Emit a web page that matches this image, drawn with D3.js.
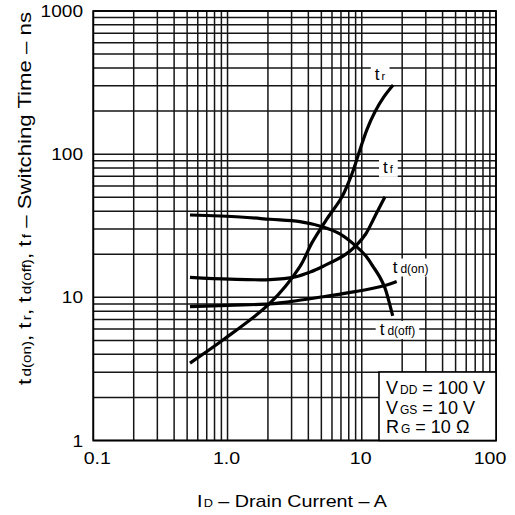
<!DOCTYPE html>
<html>
<head>
<meta charset="utf-8">
<script src="https://cdn.jsdelivr.net/npm/d3@7"></script>
<style>
  html, body { margin: 0; padding: 0; background: #fff; }
  svg { display: block; font-family: "Liberation Sans", Arial, Helvetica, sans-serif; }
</style>
</head>
<body>
<svg id="chart" width="515" height="515"></svg>
<script>
// ---- data ----
const trCurrent   = [0.525, 0.929, 2.07, 3.46, 4.25, 5.50, 7.11, 8.44, 9.68, 10.91, 12.52, 14.61, 17.13];
const trTime      = [3.47, 5.05, 9.10, 16.4, 24.0, 35.3, 50.2, 72.7, 107, 148, 197, 251, 304];

const tfCurrent   = [0.525, 1.04, 2.07, 3.18, 4.11, 5.16, 7.48, 9.14, 10.7, 12.15, 13.6, 14.9];
const tfTime      = [13.8, 13.4, 13.3, 13.9, 15.0, 16.5, 19.8, 23.2, 27.7, 34.7, 42.8, 50.5];

const tdoffCurrent = [0.525, 1.24, 2.07, 3.46, 5.16, 6.87, 9.14, 10.7, 12.15, 13.6, 14.9, 15.9, 17.0];
const tdoffTime    = [37.6, 36.4, 35.1, 33.8, 31.0, 27.7, 22.6, 19.5, 16.4, 13.9, 11.6, 9.44, 7.41];

const tdonCurrent = [0.525, 1.0, 2.07, 2.92, 5.16, 9.14, 14.4, 18.2];
const tdonTime    = [8.61, 8.8, 9.0, 9.33, 10.1, 11.0, 12.0, 12.9];

const xTickValues = [0.1, 1, 10, 100];
const xTickLabels = ["0.1", "1.0", "10", "100"];
const yTickValues = [1, 10, 100, 1000];
const yTickLabels = ["1", "10", "100", "1000"];

const conditions = [
  { main: "V", sub: "DD", rest: " = 100 V" },
  { main: "V", sub: "GS", rest: " = 10 V" },
  { main: "R", sub: "G", rest: " = 10 \u03A9" }
];

// curve labels: main letter, subscript, anchor (current, time)
const curveLabels = [
  { main: "t", sub: "r",      x: 12.5,  y: 330 },
  { main: "t", sub: "f",      x: 14.4,  y: 74 },
  { main: "t", sub: "d(on)",  x: 17.0,  y: 14.9 },
  { main: "t", sub: "d(off)", x: 13.6,  y: 5.46 }
];

// ---- layout ----
const svg = d3.select("#chart");
const x = d3.scaleLog().domain([0.1, 100]).range([93.3, 496]);
const y = d3.scaleLog().domain([1, 1000]).range([440.5, 11]);

function logGridValues(lo, hi) {
  const out = [];
  for (let e = Math.log10(lo); e < Math.log10(hi) - 1e-9; e++) {
    for (let m = 1; m <= 9; m++) out.push(m * Math.pow(10, e));
  }
  out.push(hi);
  return out;
}
const grid = svg.append("g").attr("stroke", "#151515").attr("stroke-width", 1.5);
grid.selectAll("line.v").data(logGridValues(0.1, 100)).join("line")
  .attr("class", "v")
  .attr("x1", d => x(d)).attr("x2", d => x(d))
  .attr("y1", y(1)).attr("y2", y(1000));
grid.selectAll("line.h").data(logGridValues(1, 1000)).join("line")
  .attr("class", "h")
  .attr("y1", d => y(d)).attr("y2", d => y(d))
  .attr("x1", x(0.1)).attr("x2", x(100));

// frame
svg.append("rect")
  .attr("x", x(0.1)).attr("y", y(1000))
  .attr("width", x(100) - x(0.1)).attr("height", y(1) - y(1000))
  .attr("fill", "none").attr("stroke", "#000").attr("stroke-width", 1.8);

// curve label backgrounds + labels (backgrounds under curves)
const bgLayer = svg.append("g");
const curveLayer = svg.append("g");
const labelLayer = svg.append("g");
curveLabels.forEach(l => {
  const t = labelLayer.append("text")
    .attr("x", x(l.x)).attr("y", y(l.y))
    .attr("font-size", 17).attr("fill", "#000");
  t.append("tspan").text(l.main);
  t.append("tspan").attr("font-size", l.sub.length > 1 ? 12 : 11).attr("dx", l.sub.length > 1 ? 3 : 2).text(l.sub);
  const bb = t.node().getBBox();
  bgLayer.append("rect")
    .attr("x", bb.x - 4).attr("y", bb.y + 1)
    .attr("width", bb.width + 8).attr("height", bb.height - 1)
    .attr("fill", "#fff");
});

// curves
const line = d3.line().x(d => x(d[0])).y(d => y(d[1])).curve(d3.curveCatmullRom.alpha(0.5));
[[trCurrent, trTime], [tfCurrent, tfTime], [tdoffCurrent, tdoffTime], [tdonCurrent, tdonTime]]
  .forEach(([xs, ys]) => {
    curveLayer.append("path")
      .datum(xs.map((v, i) => [v, ys[i]]))
      .attr("d", line)
      .attr("fill", "none").attr("stroke", "#000").attr("stroke-width", 3.2);
  });

// conditions box
const box = svg.append("g");
box.append("rect")
  .attr("x", 379).attr("y", 372)
  .attr("width", x(100) - 379).attr("height", y(1) - 372)
  .attr("fill", "#fff").attr("stroke", "#000").attr("stroke-width", 1.6);
conditions.forEach((c, i) => {
  const t = box.append("text")
    .attr("x", 386).attr("y", 394 + i * 19.5)
    .attr("font-size", 18).attr("fill", "#000");
  t.append("tspan").text(c.main);
  t.append("tspan").attr("font-size", 12).attr("dx", 2).text(c.sub);
  t.append("tspan").text(c.rest);
});

// widen text horizontally (the reference type is set wide)
function widen(sel, factor) {
  sel.each(function () {
    const len = this.getComputedTextLength();
    d3.select(this).attr("textLength", len * factor).attr("lengthAdjust", "spacingAndGlyphs");
  });
}

// tick labels
const xTickShift = [4, -1, -1, -6];
const xt = svg.append("g").selectAll("text").data(xTickValues).join("text")
  .attr("x", (d, i) => x(d) + xTickShift[i]).attr("y", 464)
  .attr("text-anchor", "middle").attr("font-size", 17)
  .text((d, i) => xTickLabels[i]);
widen(xt, 1.15);
const ytk = svg.append("g").selectAll("text").data(yTickValues).join("text")
  .attr("x", 83).attr("y", d => y(d)).attr("dy", "0.36em")
  .attr("text-anchor", "end").attr("font-size", 17)
  .text((d, i) => yTickLabels[i]);
widen(ytk, 1.12);

// x axis title
const xTitle = svg.append("text")
  .attr("x", 292).attr("y", 507)
  .attr("text-anchor", "middle").attr("font-size", 17);
xTitle.append("tspan").text("I");
xTitle.append("tspan").attr("font-size", 11).attr("dx", 1).text("D");
xTitle.append("tspan").text(" \u2013 Drain Current \u2013 A");
xTitle.attr("textLength", 190).attr("lengthAdjust", "spacingAndGlyphs");

// y axis title
const yTitle = svg.append("text")
  .attr("transform", "translate(31,198.5) rotate(-90)")
  .attr("text-anchor", "middle").attr("font-size", 19);
[["t", "d(on)"], [", t", "r"], [", t", "d(off)"], [", t", "f"]].forEach(([m, s]) => {
  yTitle.append("tspan").attr("font-size", 19).text(m);
  yTitle.append("tspan").attr("font-size", 13).attr("dx", 2).text(s);
});
yTitle.append("tspan").attr("font-size", 19).text(" \u2013 Switching Time \u2013 ns");
yTitle.attr("textLength", 373).attr("lengthAdjust", "spacingAndGlyphs");
</script>
</body>
</html>
